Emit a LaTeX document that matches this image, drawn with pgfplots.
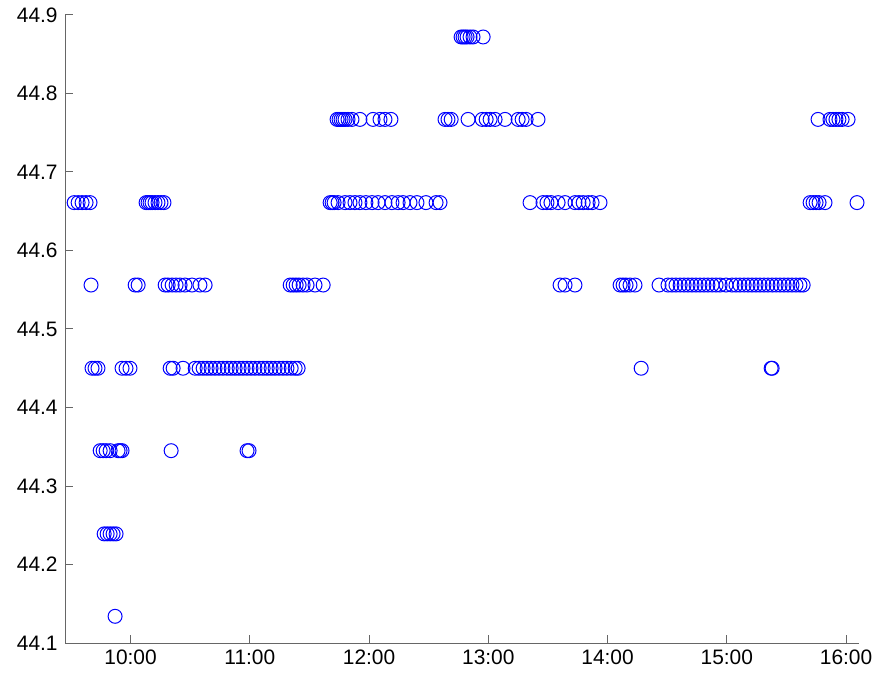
\documentclass[border=0pt]{standalone}
\usepackage{pgfplots}
\pgfplotsset{compat=1.18}
\usepackage{fontspec}
\setmainfont{Liberation Sans}
\begin{document}
\fontsize{10.5}{12}\selectfont
\begin{tikzpicture}
\begin{axis}[
  scale only axis,
  width=397bp, height=314bp,
  xmin=567.0, xmax=966.5,
  ymin=44.1, ymax=44.9,
  axis x line*=bottom, axis y line*=left,
  axis line style={black!60, line width=0.5bp},
  tick style={black!60, line width=0.5bp},
  major tick length=4bp,
  tick align=inside,
  xtick={600,660,720,780,840,900,960},
  xticklabels={10:00,11:00,12:00,13:00,14:00,15:00,16:00},
  ytick={44.1,44.2,44.3,44.4,44.5,44.6,44.7,44.8,44.9},
  yticklabel style={/pgf/number format/fixed,/pgf/number format/precision=1,/pgf/number format/fixed zerofill},
  /pgf/number format/assume math mode=true,
  ticklabel style={font=\fontsize{10.5}{12}\selectfont},
  clip=false,
]
\addplot[only marks, mark=o, mark size=3.5pt, blue, mark options={line width=0.5bp}] coordinates {
% 44.872
(766.3,44.872)(767.3,44.872)(768.3,44.872)(769.3,44.872)(770.8,44.872)(772.3,44.872)(777.4,44.872)
% 44.767
(703.9,44.767)(704.9,44.767)(705.9,44.767)(706.9,44.767)(707.9,44.767)(709.4,44.767)(711.4,44.767)(715.4,44.767)(722.0,44.767)(725.5,44.767)(728.0,44.767)(731.0,44.767)
(758.2,44.767)(759.7,44.767)(761.3,44.767)(769.8,44.767)(776.9,44.767)(778.9,44.767)(780.9,44.767)(783.4,44.767)(788.4,44.767)(795.0,44.767)(797.0,44.767)(799.0,44.767)(805.0,44.767)
(945.9,44.767)(951.9,44.767)(953.4,44.767)(954.9,44.767)(956.4,44.767)(958.0,44.767)(961.0,44.767)
% 44.661
(571.6,44.661)(573.6,44.661)(575.6,44.661)(577.6,44.661)(579.6,44.661)
(607.8,44.661)(608.8,44.661)(609.8,44.661)(610.8,44.661)(612.3,44.661)(613.8,44.661)(615.3,44.661)(616.8,44.661)
(700.4,44.661)(701.4,44.661)(702.4,44.661)(704.4,44.661)(707.9,44.661)(710.4,44.661)(712.9,44.661)(715.4,44.661)(718.4,44.661)(721.5,44.661)(724.5,44.661)(728.0,44.661)(731.5,44.661)(734.6,44.661)(737.1,44.661)(740.6,44.661)(744.1,44.661)(748.6,44.661)(753.7,44.661)(755.7,44.661)
(801.0,44.661)(807.5,44.661)(809.5,44.661)(811.5,44.661)(815.1,44.661)(818.6,44.661)(823.6,44.661)(825.6,44.661)(827.7,44.661)(830.2,44.661)(832.2,44.661)(836.2,44.661)
(941.9,44.661)(943.4,44.661)(944.9,44.661)(946.4,44.661)(949.4,44.661)
(965.5,44.661)
% 44.556
(580.1,44.556)(602.3,44.556)(603.8,44.556)
(617.4,44.556)(618.9,44.556)(620.9,44.556)(622.9,44.556)(624.9,44.556)(627.4,44.556)(630.9,44.556)(634.9,44.556)(637.5,44.556)
(680.3,44.556)(681.8,44.556)(683.3,44.556)(684.8,44.556)(686.8,44.556)(688.8,44.556)(692.8,44.556)(696.9,44.556)
(816.1,44.556)(818.6,44.556)(823.6,44.556)
(846.3,44.556)(847.8,44.556)(849.3,44.556)(851.3,44.556)(853.8,44.556)(865.9,44.556)
(870.4,44.556)(872.4,44.556)(874.4,44.556)(876.5,44.556)(878.5,44.556)(880.5,44.556)(882.5,44.556)(884.5,44.556)(886.5,44.556)(888.5,44.556)(890.5,44.556)(892.6,44.556)(894.6,44.556)(896.6,44.556)(899.6,44.556)(902.6,44.556)(904.6,44.556)(906.6,44.556)(908.7,44.556)(910.7,44.556)(912.7,44.556)(914.7,44.556)(916.7,44.556)(918.7,44.556)(920.7,44.556)(922.8,44.556)(924.8,44.556)(926.8,44.556)(928.8,44.556)(930.8,44.556)(932.8,44.556)(934.8,44.556)(936.8,44.556)(938.4,44.556)
% 44.450
(580.6,44.450)(582.1,44.450)(583.6,44.450)(595.7,44.450)(597.7,44.450)(599.7,44.450)
(619.9,44.450)(621.4,44.450)(626.4,44.450)
(632.5,44.450)(634.5,44.450)(636.5,44.450)(638.5,44.450)(640.5,44.450)(642.5,44.450)(644.5,44.450)(646.5,44.450)(648.6,44.450)(650.6,44.450)(652.6,44.450)(654.6,44.450)(656.6,44.450)(658.6,44.450)(660.6,44.450)(662.6,44.450)(664.7,44.450)(666.7,44.450)(668.7,44.450)(670.7,44.450)(672.7,44.450)(674.7,44.450)(676.7,44.450)(678.7,44.450)(680.8,44.450)(682.8,44.450)(684.3,44.450)
(856.9,44.450)(922.3,44.450)(922.8,44.450)
% 44.345
(584.7,44.345)(586.2,44.345)(587.7,44.345)(589.7,44.345)(593.7,44.345)(594.7,44.345)(595.7,44.345)(620.4,44.345)(658.6,44.345)(659.6,44.345)
% 44.239
(586.7,44.239)(588.2,44.239)(589.7,44.239)(591.2,44.239)(592.7,44.239)
% 44.134
(592.2,44.134)
};
\end{axis}
\path (current axis.south west) ++(-32.5bp,-17bp) coordinate (A);
\path (current axis.north east) ++(10bp,7.5bp) coordinate (B);
\pgfresetboundingbox
\path (A) rectangle (B);
\end{tikzpicture}
\end{document}
